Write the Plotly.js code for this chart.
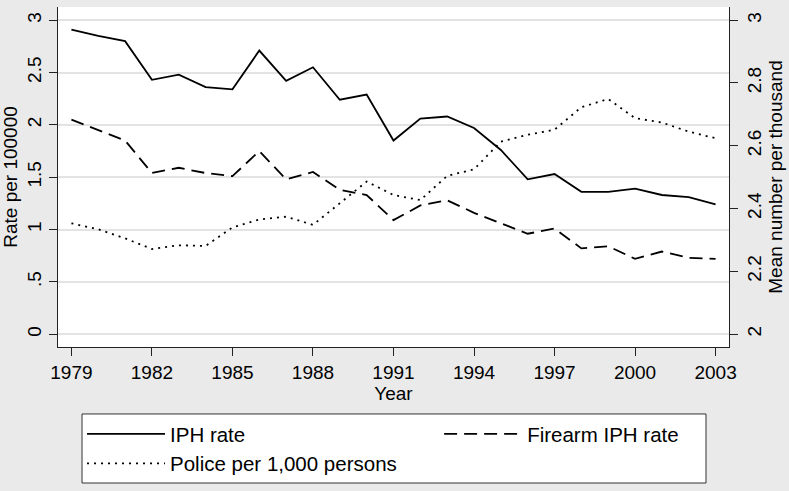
<!DOCTYPE html>
<html>
<head>
<meta charset="utf-8">
<script src="https://cdn.plot.ly/plotly-3.0.1.min.js"></script>
<style>
  body { margin: 0; background: #eaeaea; }
  #myPlot { width: 789px; height: 491px; }
</style>
</head>
<body>
<div id="myPlot"></div>
<script>
// data
var years = [1979, 1980, 1981, 1982, 1983, 1984, 1985, 1986, 1987, 1988, 1989, 1990,
    1991, 1992, 1993, 1994, 1995, 1996, 1997, 1998, 1999, 2000, 2001, 2002, 2003];

var iphRate = [2.91, 2.85, 2.80, 2.43, 2.48, 2.36, 2.34, 2.71, 2.42, 2.55, 2.24, 2.29,
    1.85, 2.06, 2.08, 1.97, 1.76, 1.48, 1.53, 1.36, 1.36, 1.39, 1.33, 1.31, 1.24];

var firearmRate = [2.05, 1.95, 1.85, 1.54, 1.59, 1.54, 1.51, 1.75, 1.48, 1.55, 1.38, 1.33,
    1.09, 1.23, 1.28, 1.16, 1.06, 0.96, 1.01, 0.82, 0.84, 0.72, 0.79, 0.73, 0.72];

var policePer1000 = [2.353, 2.334, 2.305, 2.271, 2.283, 2.281, 2.340, 2.365, 2.374, 2.348, 2.417, 2.486,
    2.443, 2.427, 2.504, 2.525, 2.613, 2.635, 2.651, 2.723, 2.749, 2.688, 2.674, 2.645, 2.624];

var xTicks = [1979, 1982, 1985, 1988, 1991, 1994, 1997, 2000, 2003];
var leftTicks = [0, 0.5, 1, 1.5, 2, 2.5, 3];
var leftTickText = ["0", ".5", "1", "1.5", "2", "2.5", "3"];
var rightTicks = [2, 2.2, 2.4, 2.6, 2.8, 3];
var rightTickText = ["2", "2.2", "2.4", "2.6", "2.8", "3"];

var font = "Liberation Sans, Arial, Helvetica, sans-serif";
var lineW = 1.8;

var data = [{
    x: years, y: iphRate, name: "IPH rate",
    type: "scatter", mode: "lines", legend: "legend",
    line: { color: "#000000", width: lineW }
}, {
    x: years, y: firearmRate, name: "Firearm IPH rate",
    type: "scatter", mode: "lines", legend: "legend2",
    line: { color: "#000000", width: lineW, dash: "13px,7px" }
}, {
    x: years, y: policePer1000, name: "Police per 1,000 persons",
    type: "scatter", mode: "lines", yaxis: "y2", legend: "legend",
    line: { color: "#000000", width: lineW, dash: "2px,5px" }
}];

var legendStyle = {
    bgcolor: "rgba(0,0,0,0)",
    borderwidth: 0,
    font: { family: font, size: 20.5 },
    itemwidth: 78,
    yanchor: "top",
    y: -0.197,
    xanchor: "left",
    traceorder: "normal"
};

var layout = {
    width: 789,
    height: 491,
    margin: { l: 58, r: 60, t: 7, b: 144 },
    paper_bgcolor: "#eaeaea",
    plot_bgcolor: "#ffffff",
    font: { family: font, size: 19, color: "#000000" },
    showlegend: true,
    xaxis: {
        range: [1978.5, 2003.5],
        tickvals: xTicks,
        ticks: "outside", ticklen: 8, tickwidth: 1.2, tickcolor: "#222222",
        showgrid: false, zeroline: false,
        showline: true, linecolor: "#222222", linewidth: 1.3,
        title: { text: "Year", standoff: 2, font: { size: 19 } }
    },
    yaxis: {
        range: [-0.122, 3.126],
        tickvals: leftTicks, ticktext: leftTickText,
        tickangle: -90,
        ticks: "outside", ticklen: 8, tickwidth: 1.2, tickcolor: "#222222",
        showgrid: true, gridcolor: "#e3e3e3", gridwidth: 1.5,
        zeroline: false,
        showline: true, linecolor: "#222222", linewidth: 1.3,
        title: { text: "Rate per 100000", standoff: 4, font: { size: 19 } }
    },
    yaxis2: {
        overlaying: "y", side: "right",
        range: [1.959, 3.042],
        tickvals: rightTicks, ticktext: rightTickText,
        tickangle: -90,
        ticks: "outside", ticklen: 8, tickwidth: 1.2, tickcolor: "#222222",
        showgrid: false, zeroline: false,
        showline: true, linecolor: "#222222", linewidth: 1.3,
        title: { text: "Mean number per thousand", standoff: 4, font: { size: 19 } }
    },
    shapes: [{
        // no grid line at the bottom tick in the original
        type: "line", layer: "between",
        xref: "paper", x0: 0, x1: 1,
        yref: "y", y0: 0, y1: 0,
        line: { color: "#ffffff", width: 3 }
    }, {
        // legend frame shared by the two legend columns
        type: "rect", layer: "above",
        xref: "paper", x0: 0.0358, x1: 0.9657,
        yref: "paper", y0: -0.197, y1: -0.4,
        fillcolor: "#ffffff",
        line: { color: "#333333", width: 1 }
    }],
    legend: Object.assign({}, legendStyle, { x: 0.0358 }),
    legend2: Object.assign({}, legendStyle, { x: 0.568 })
};

Plotly.newPlot("myPlot", data, layout, { displayModeBar: false });
</script>
</body>
</html>
